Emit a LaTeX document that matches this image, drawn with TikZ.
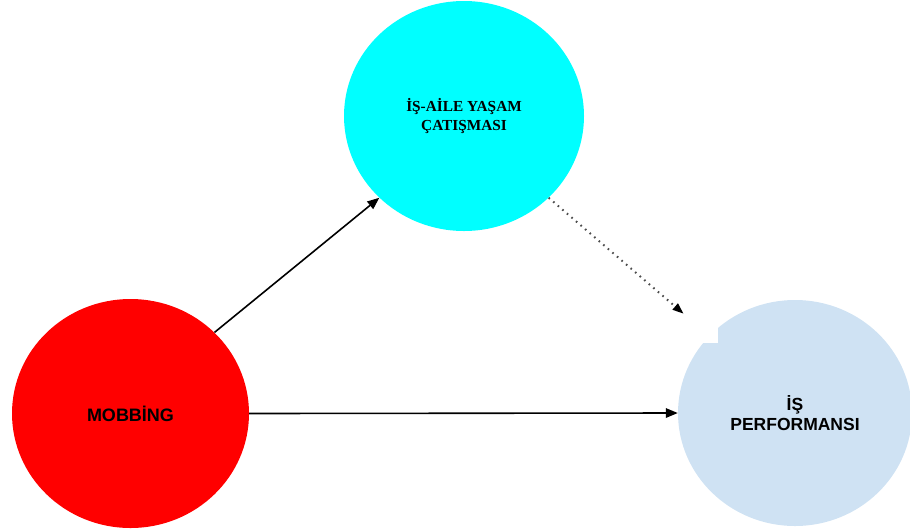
\documentclass[tikz,border=0pt]{standalone}
\usepackage{fontspec}
\setmainfont{Liberation Serif}
\newfontfamily\arialfont{Liberation Sans}
\usetikzlibrary{arrows.meta,shapes.geometric}
\definecolor{mobred}{RGB}{255,0,0}
\definecolor{confcyan}{RGB}{0,255,255}
\definecolor{perfblue}{RGB}{207,226,243}
\tikzset{
  bubble/.style={ellipse, inner sep=0pt, align=center, font=\bfseries},
  link/.style={line width=1.6pt, -{Triangle[length=12pt,width=9.5pt]}},
  dotlink/.style={line width=2pt, draw=black!70, dash pattern=on 1.6pt off 4.4pt,
                  -{Triangle[length=11pt,width=8pt,color=black]}}
}
\begin{document}
\begin{tikzpicture}[x=1pt,y=-1pt]
\useasboundingbox (0,0) rectangle (910,531);

% the three variables
\node[bubble, fill=mobred, minimum width=237pt, minimum height=229pt,
      font=\arialfont\bfseries\fontsize{18}{20}\selectfont] (mob) at (130.5,413.5) {MOBB\.{I}NG};
\node[bubble, fill=confcyan, minimum width=240pt, minimum height=230pt,
      font=\bfseries\fontsize{15.3}{18.5}\selectfont] (conf) at (464,116)
      {\.{I}Ş-A\.{I}LE YAŞAM\\ÇATIŞMASI};
\node[bubble, fill=perfblue, minimum width=234pt, minimum height=226pt,
      font=\arialfont\bfseries\fontsize{17.5}{19.5}\selectfont] (perf) at (795,413)
      {\.{I}Ş\\PERFORMANSI};

% cut-out corner on the performance circle
\fill[white] (660,290) rectangle (718,343);

% relations
\draw[link] (mob.44) -- (conf.224);
\draw[link] (mob.east) -- (perf.west);
\draw[dotlink, shorten >=34pt] (conf.-44) -- (perf.138);
\end{tikzpicture}
\end{document}
